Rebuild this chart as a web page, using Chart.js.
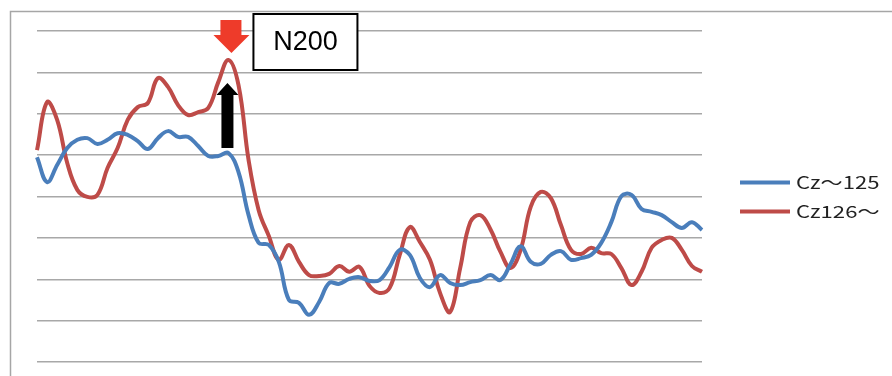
<!DOCTYPE html>
<html>
<head>
<meta charset="utf-8">
<script src="https://cdn.jsdelivr.net/npm/chart.js@4.4.1/dist/chart.umd.min.js"></script>
<style>
  html, body { margin: 0; padding: 0; background: #fff; }
  #wrap { width: 892px; height: 376px; }
</style>
</head>
<body>
<div id="wrap"><canvas id="erpChart" width="892" height="376"></canvas></div>
<script>
// sample index along the time axis (no labels shown on the original)
const samples = Array.from({ length: 67 }, (_, i) => String(i));

// Cz~125 (blue) in grid units (0 = bottom line, 8 = top line)
const czLow = [
  4.95, 4.35, 4.76, 5.17, 5.37, 5.41, 5.27, 5.37, 5.53, 5.49,
  5.34, 5.15, 5.41, 5.58, 5.44, 5.44, 5.22, 4.98, 4.98, 5.05,
  4.59, 3.55, 2.88, 2.83, 2.42, 1.50, 1.43, 1.14, 1.45, 1.91,
  1.89, 2.01, 2.05, 1.96, 1.98, 2.30, 2.71, 2.59, 2.03, 1.81,
  2.10, 1.91, 1.86, 1.93, 1.98, 2.10, 1.98, 2.37, 2.80, 2.42,
  2.37, 2.59, 2.68, 2.47, 2.51, 2.59, 2.88, 3.38, 4.01, 4.04,
  3.70, 3.63, 3.55, 3.38, 3.24, 3.38, 3.19
];

// Cz126~ (red)
const czHigh = [
  5.12, 6.28, 5.85, 4.81, 4.16, 3.99, 4.04, 4.69, 5.17, 5.85,
  6.16, 6.26, 6.86, 6.65, 6.21, 5.97, 6.04, 6.14, 6.77, 7.30,
  6.69, 4.88, 3.67, 3.05, 2.47, 2.83, 2.42, 2.10, 2.08, 2.13,
  2.32, 2.18, 2.30, 1.84, 1.67, 1.79, 2.59, 3.26, 2.90, 2.47,
  1.67, 1.21, 2.27, 3.38, 3.55, 3.21, 2.66, 2.27, 2.71, 3.75,
  4.11, 3.96, 3.31, 2.71, 2.61, 2.76, 2.63, 2.61, 2.27, 1.86,
  2.18, 2.76, 2.95, 3.00, 2.71, 2.32, 2.18
];

const seriesNames = ["Cz～125", "Cz126～"];
const peakIndex = 19;   // N200 peak sample
const peakLabel = "N200";

// grey frame around the whole plot like the spreadsheet export
const framePlugin = {
    id: "frame",
    beforeDraw(chart) {
        const c = chart.ctx;
        c.save();
        c.strokeStyle = "#a6a6a6";
        c.lineWidth = 1.5;
        c.strokeRect(10.5, 11.5, chart.width + 20, chart.height + 20);
        c.restore();
    }
};

// legend on the right, drawn from the datasets
const sideLegend = {
    id: "sideLegend",
    afterDraw(chart) {
        const c = chart.ctx;
        const area = chart.chartArea;
        const x0 = area.right + 38;
        const yMid = (area.top + area.bottom) / 2;
        c.save();
        c.font = "17px 'Noto Sans CJK JP', 'Noto Sans', sans-serif";
        c.textBaseline = "middle";
        chart.data.datasets.forEach((ds, i) => {
            const y = yMid - 14 + i * 29;
            c.strokeStyle = ds.borderColor;
            c.lineWidth = 4;
            c.beginPath();
            c.moveTo(x0, y);
            c.lineTo(x0 + 50, y);
            c.stroke();
            // the original text is drawn a bit wide
            c.save();
            c.translate(x0 + 56, y);
            c.scale(1.3, 1);
            c.fillStyle = "#222";
            c.fillText(ds.label, 0, 0);
            c.restore();
        });
        c.restore();
    }
};

// N200 arrows and box, anchored on the peak sample
const n200Plugin = {
    id: "n200",
    afterDatasetsDraw(chart) {
        const c = chart.ctx;
        const xs = chart.scales.x, ys = chart.scales.y;
        const px = xs.getPixelForValue(peakIndex) + 3;
        const redY = ys.getPixelForValue(czHigh[peakIndex]);
        const blueY = ys.getPixelForValue(czLow[peakIndex]);
        c.save();

        // red arrow pointing down at the peak
        const tip = redY - 7;
        c.fillStyle = "#ee3b2a";
        c.beginPath();
        c.moveTo(px - 11, tip - 33);
        c.lineTo(px + 10, tip - 33);
        c.lineTo(px + 10, tip - 18);
        c.lineTo(px + 18, tip - 18);
        c.lineTo(px, tip);
        c.lineTo(px - 18, tip - 18);
        c.lineTo(px - 11, tip - 18);
        c.closePath();
        c.fill();

        // black arrow pointing up from the blue curve
        const bx = px - 4;
        const top = redY + 23;
        const bottom = blueY - 5;
        c.fillStyle = "#000";
        c.beginPath();
        c.moveTo(bx, top);
        c.lineTo(bx + 11, top + 12);
        c.lineTo(bx + 6, top + 12);
        c.lineTo(bx + 6, bottom);
        c.lineTo(bx - 6, bottom);
        c.lineTo(bx - 6, top + 12);
        c.lineTo(bx - 11, top + 12);
        c.closePath();
        c.fill();

        // label box
        const bxL = px + 22, bxT = 14, bw = 104, bh = 56;
        c.fillStyle = "#fff";
        c.fillRect(bxL, bxT, bw, bh);
        c.strokeStyle = "#000";
        c.lineWidth = 2;
        c.strokeRect(bxL, bxT, bw, bh);
        c.fillStyle = "#000";
        c.font = "27px 'Liberation Sans', Arial, sans-serif";
        c.textAlign = "center";
        c.textBaseline = "middle";
        c.fillText(peakLabel, bxL + bw / 2, bxT + bh / 2 + 1);
        c.restore();
    }
};

const ctx = document.getElementById("erpChart").getContext("2d");

new Chart(ctx, {
    type: "line",
    data: {
        labels: samples,
        datasets: [{
            label: seriesNames[0],
            data: czLow,
            borderColor: "#4a7ebb",
            borderWidth: 4,
            pointRadius: 0,
            tension: 0.4,
            fill: false
        }, {
            label: seriesNames[1],
            data: czHigh,
            borderColor: "#be4b48",
            borderWidth: 4,
            pointRadius: 0,
            tension: 0.4,
            fill: false
        }]
    },
    options: {
        responsive: false,
        animation: false,
        layout: { padding: { left: 37, top: 31, right: 190, bottom: 14 } },
        plugins: {
            legend: { display: false },
            tooltip: { enabled: false }
        },
        scales: {
            x: {
                display: false,
                offset: false
            },
            y: {
                min: 0,
                max: 8,
                ticks: { display: false, stepSize: 1 },
                border: { display: false },
                grid: { color: "#a8a8a8", lineWidth: 1.5, drawTicks: false },
                afterFit(scale) { scale.width = 0; }
            }
        }
    },
    plugins: [framePlugin, sideLegend, n200Plugin]
});
</script>
</body>
</html>
